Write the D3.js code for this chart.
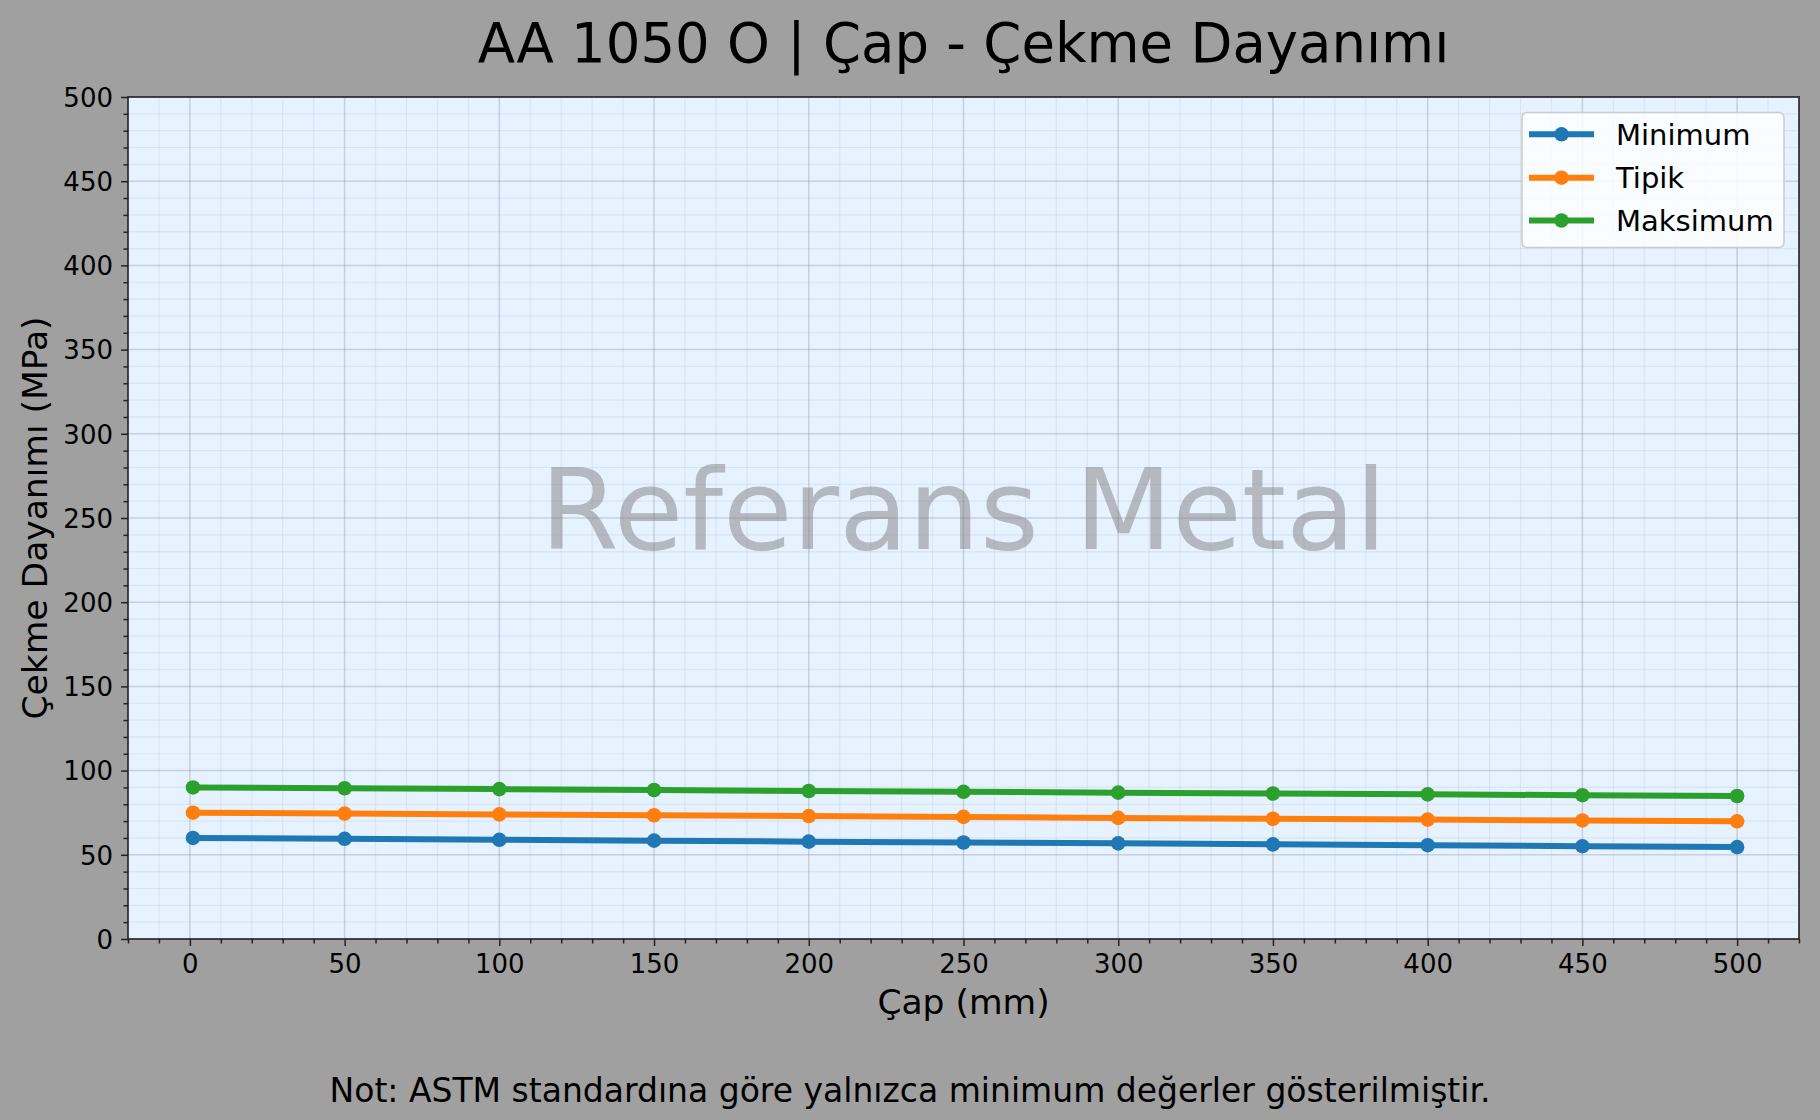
<!DOCTYPE html>
<html>
<head>
<meta charset="utf-8">
<script src="https://cdn.jsdelivr.net/npm/d3@7/dist/d3.min.js"></script>
<style>
  html, body { margin: 0; padding: 0; background: #a0a0a0; }
  svg { display: block; font-family: "DejaVu Sans", sans-serif; }
</style>
</head>
<body>
<svg id="chart" width="1820" height="1120"></svg>
<script>
// ---- Data ----
const diameters = [1, 50, 100, 150, 200, 250, 300, 350, 400, 450, 500];
const minimumValues = [60.0, 59.5, 58.9, 58.4, 57.8, 57.3, 56.8, 56.2, 55.7, 55.1, 54.6];
const typicalValues = [75.0, 74.5, 74.0, 73.5, 73.0, 72.5, 71.9, 71.4, 70.9, 70.4, 69.9];
const maximumValues = [90.0, 89.5, 89.0, 88.5, 87.9, 87.4, 86.9, 86.4, 85.9, 85.4, 84.9];
const seriesNames = ["Minimum", "Tipik", "Maksimum"];
const seriesColors = ["#1f77b4", "#ff7f0e", "#2ca02c"];
const xTicks = [0, 50, 100, 150, 200, 250, 300, 350, 400, 450, 500];
const yTicks = [0, 50, 100, 150, 200, 250, 300, 350, 400, 450, 500];
const titleText = "AA 1050 O | Çap - Çekme Dayanımı";
const xLabelText = "Çap (mm)";
const yLabelText = "Çekme Dayanımı (MPa)";
const watermarkText = "Referans Metal";
const noteText = "Not: ASTM standardına göre yalnızca minimum değerler gösterilmiştir.";

const series = [minimumValues, typicalValues, maximumValues].map((vals, i) => ({
  name: seriesNames[i], color: seriesColors[i],
  points: diameters.map((d, j) => ({ x: d, y: vals[j] }))
}));

// ---- Layout ----
const svg = d3.select("#chart");
const W = 1820, H = 1120;
const plot = { left: 128, right: 1799, top: 97, bottom: 939 };

svg.append("rect").attr("width", W).attr("height", H).attr("fill", "#a0a0a0");

const x = d3.scaleLinear().domain([-20, 520]).range([plot.left, plot.right]);
const y = d3.scaleLinear().domain([0, 500]).range([plot.bottom, plot.top]);

const xMinor = d3.range(-20, 521, 10).filter(v => v % 50 !== 0);
const yMinor = d3.range(0, 501, 10).filter(v => v % 50 !== 0);

// axes background
svg.append("rect")
  .attr("x", plot.left).attr("y", plot.top)
  .attr("width", plot.right - plot.left).attr("height", plot.bottom - plot.top)
  .attr("fill", "#e6f2ff");

const grid = svg.append("g");
// minor grid
grid.selectAll(".vxm").data(xMinor).enter().append("line")
  .attr("x1", d => x(d)).attr("x2", d => x(d))
  .attr("y1", plot.top).attr("y2", plot.bottom)
  .attr("stroke", "#808080").attr("stroke-opacity", 0.11).attr("stroke-width", 1.2);
grid.selectAll(".hym").data(yMinor).enter().append("line")
  .attr("y1", d => y(d)).attr("y2", d => y(d))
  .attr("x1", plot.left).attr("x2", plot.right)
  .attr("stroke", "#808080").attr("stroke-opacity", 0.11).attr("stroke-width", 1.2);
// major grid
grid.selectAll(".vx").data(xTicks).enter().append("line")
  .attr("x1", d => x(d)).attr("x2", d => x(d))
  .attr("y1", plot.top).attr("y2", plot.bottom)
  .attr("stroke", "#808080").attr("stroke-opacity", 0.3).attr("stroke-width", 1.5);
grid.selectAll(".hy").data(yTicks).enter().append("line")
  .attr("y1", d => y(d)).attr("y2", d => y(d))
  .attr("x1", plot.left).attr("x2", plot.right)
  .attr("stroke", "#808080").attr("stroke-opacity", 0.3).attr("stroke-width", 1.5);

// watermark
svg.append("text")
  .attr("x", (plot.left + plot.right) / 2).attr("y", 549)
  .attr("text-anchor", "middle")
  .attr("font-size", 113)
  .attr("fill", "#808080").attr("fill-opacity", 0.5)
  .text(watermarkText);

// lines and markers
const line = d3.line().x(d => x(d.x)).y(d => y(d.y));
const sg = svg.append("g");
series.forEach(s => {
  sg.append("path").datum(s.points)
    .attr("d", line).attr("fill", "none")
    .attr("stroke", s.color).attr("stroke-width", 6)
    .attr("stroke-linejoin", "round").attr("stroke-linecap", "butt");
  sg.selectAll(null).data(s.points).enter().append("circle")
    .attr("cx", d => x(d.x)).attr("cy", d => y(d.y)).attr("r", 7.3)
    .attr("fill", s.color);
});

// axes using d3 axis
const xAxis = svg.append("g").attr("transform", `translate(0,${plot.bottom})`)
  .call(d3.axisBottom(x).tickValues(xTicks).tickSize(7).tickPadding(9).tickFormat(d3.format("d")));
const xAxisMinor = svg.append("g").attr("transform", `translate(0,${plot.bottom})`)
  .call(d3.axisBottom(x).tickValues(xMinor).tickSize(4.5).tickFormat(""));
const yAxis = svg.append("g").attr("transform", `translate(${plot.left},0)`)
  .call(d3.axisLeft(y).tickValues(yTicks).tickSize(7).tickPadding(8).tickFormat(d3.format("d")));
const yAxisMinor = svg.append("g").attr("transform", `translate(${plot.left},0)`)
  .call(d3.axisLeft(y).tickValues(yMinor).tickSize(4.5).tickFormat(""));

[xAxis, xAxisMinor, yAxis, yAxisMinor].forEach(g => {
  g.select(".domain").remove();
  g.selectAll(".tick line").attr("stroke", "#222").attr("stroke-width", 1.5);
  g.selectAll(".tick text").attr("fill", "#000").attr("font-size", 26)
    .attr("font-family", "DejaVu Sans");
});
xAxis.selectAll(".tick text").attr("dy", null).attr("y", null)
  .attr("transform", "translate(0,33.5)");
yAxis.selectAll(".tick text").attr("dy", "0.36em");

// spines
svg.append("rect")
  .attr("x", plot.left).attr("y", plot.top)
  .attr("width", plot.right - plot.left).attr("height", plot.bottom - plot.top)
  .attr("fill", "none").attr("stroke", "#222").attr("stroke-width", 1.6);

// title
svg.append("text")
  .attr("x", (plot.left + plot.right) / 2).attr("y", 62)
  .attr("text-anchor", "middle").attr("font-size", 54.5).attr("fill", "#000")
  .text(titleText);

// axis labels
svg.append("text")
  .attr("x", (plot.left + plot.right) / 2).attr("y", 1014)
  .attr("text-anchor", "middle").attr("font-size", 34.5).attr("fill", "#000")
  .text(xLabelText);
svg.append("text")
  .attr("transform", `translate(47,${(plot.top + plot.bottom) / 2}) rotate(-90)`)
  .attr("text-anchor", "middle").attr("font-size", 34.5).attr("fill", "#000")
  .text(yLabelText);

// footnote
svg.append("text")
  .attr("x", W / 2).attr("y", 1102)
  .attr("text-anchor", "middle").attr("font-size", 33).attr("fill", "#000")
  .text(noteText);

// legend
const lg = svg.append("g");
lg.append("rect")
  .attr("x", 1522).attr("y", 112.5).attr("width", 262).attr("height", 135)
  .attr("rx", 5).attr("ry", 5)
  .attr("fill", "#ffffff").attr("fill-opacity", 0.8)
  .attr("stroke", "#cccccc").attr("stroke-width", 1.5);
const rowY = [134.3, 177.7, 220.5];
series.forEach((s, i) => {
  lg.append("line")
    .attr("x1", 1529).attr("x2", 1594).attr("y1", rowY[i]).attr("y2", rowY[i])
    .attr("stroke", s.color).attr("stroke-width", 6);
  lg.append("circle").attr("cx", 1561.5).attr("cy", rowY[i]).attr("r", 7.3).attr("fill", s.color);
  lg.append("text").attr("x", 1616).attr("y", rowY[i] + 10.5)
    .attr("font-size", 29).attr("fill", "#000").text(s.name);
});
</script>
</body>
</html>
